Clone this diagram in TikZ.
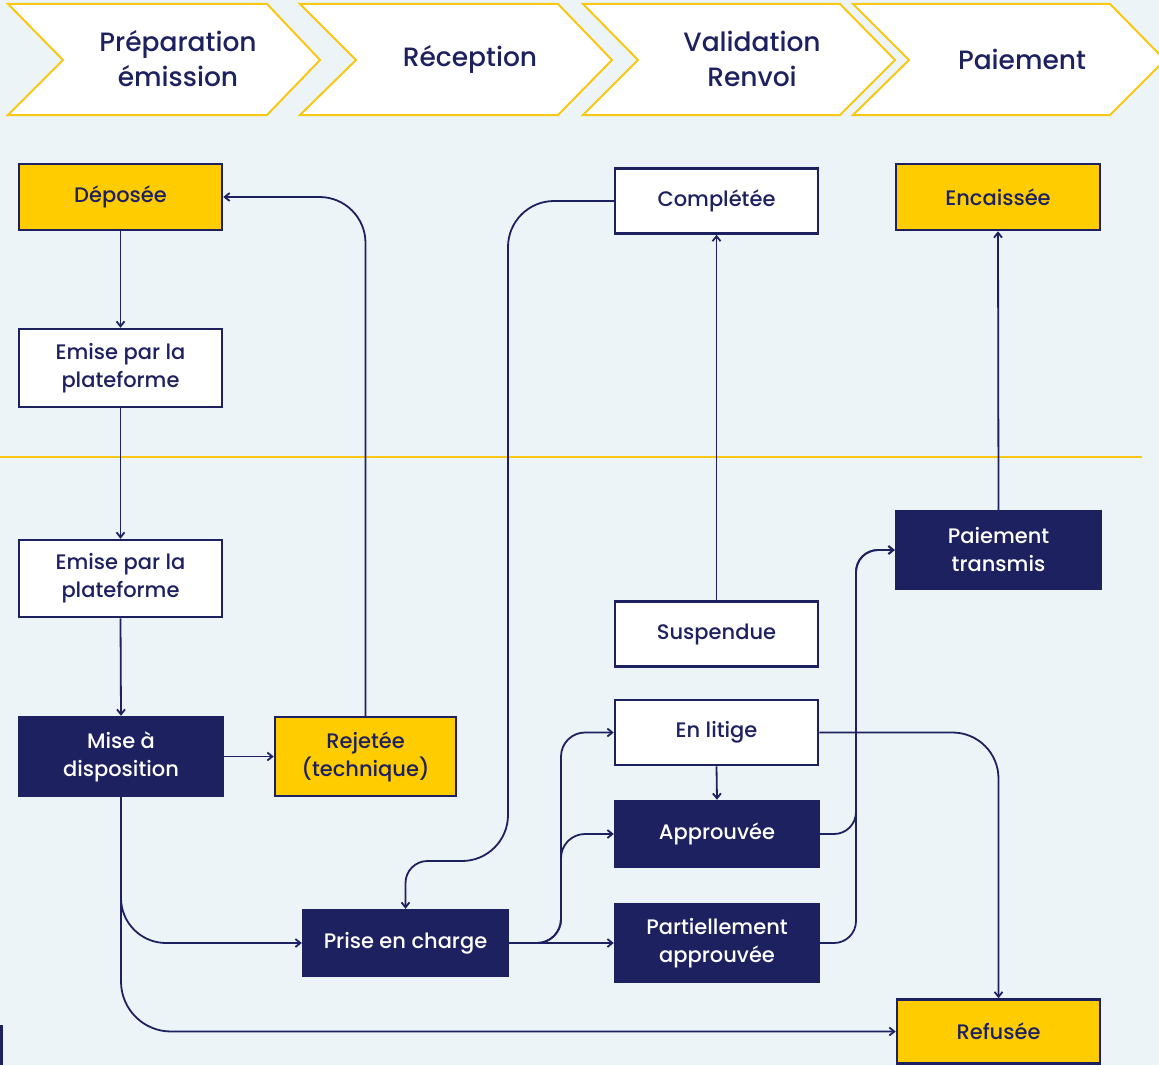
\documentclass[tikz,border=0pt]{standalone}
\usepackage{fontspec}
\setmainfont{Poppins}[UprightFont=* Medium]
\usetikzlibrary{arrows.meta,calc}
\definecolor{navy}{RGB}{30,33,95}
\definecolor{yel}{RGB}{255,204,0}
\definecolor{chevy}{RGB}{248,200,20}
\definecolor{bg}{RGB}{236,244,247}
\newcommand{\boxfont}{\fontsize{21}{28}\selectfont}
\newcommand{\headfont}{\fontsize{26.5}{35}\selectfont}
\tikzset{
  base/.style={rectangle, inner sep=0pt, align=center, font=\boxfont},
  wbox/.style={base, fill=white, draw=navy, line width=2.5pt, text=navy},
  ybox/.style={base, fill=yel, draw=navy, line width=2.5pt, text=navy},
  nbox/.style={base, fill=navy, text=white},
  conn/.style={draw=navy, line width=1.8pt, -{Straight Barb[length=5pt,width=8pt]}},
  chev/.style={fill=white, draw=chevy, line width=2pt, line join=miter},
  headtxt/.style={align=center, font=\headfont, text=navy, inner sep=0pt}
}
\begin{document}
\begin{tikzpicture}[x=1pt,y=-1pt]
\fill[bg] (0,0) rectangle (1159,1065);
\useasboundingbox (0,0) rectangle (1159,1065);

% header chevrons
\draw[chev] (8,4) -- (267,4) -- (320,60) -- (267,115) -- (8,115) -- (63,60) -- cycle;
\draw[chev] (300,4) -- (558,4) -- (612,60) -- (558,115) -- (300,115) -- (356,60) -- cycle;
\draw[chev] (583,4) -- (840,4) -- (895,60) -- (840,115) -- (583,115) -- (638,60) -- cycle;
\draw[chev] (853,4) -- (1110,4) -- (1165,60) -- (1110,115) -- (853,115) -- (909,60) -- cycle;
\node[headtxt] (h1) at (178,59) {Préparation\\émission};
\node[headtxt] (h2) at (470,59) {Réception};
\node[headtxt] (h3) at (752,59) {Validation\\Renvoi};
\node[headtxt] (h4) at (1022,59) {Paiement};

% divider
\draw[chevy, line width=2pt] (0,457) -- (1142,457);

% partial box at bottom left
\draw[fill=yel, draw=navy, line width=2.5pt] (-40,1026) rectangle (1.5,1090);

% nodes
\node[ybox, minimum width=203pt, minimum height=66pt] (dep) at (120.5,197) {Déposée};
\node[wbox, minimum width=203pt, minimum height=78pt] (em1) at (120.5,368) {Emise par la\\plateforme};
\node[wbox, minimum width=203pt, minimum height=77pt] (em2) at (120.5,578.5) {Emise par la\\plateforme};
\node[nbox, minimum width=206pt, minimum height=81pt] (mise) at (121,756.5) {Mise à\\disposition};
\node[ybox, minimum width=181pt, minimum height=79pt] (rej) at (365.5,756.5) {Rejetée\\(technique)};
\node[nbox, minimum width=207pt, minimum height=68pt] (prise) at (405.5,943) {Prise en charge};
\node[wbox, minimum width=203pt, minimum height=65pt] (comp) at (716.5,201) {Complétée};
\node[ybox, minimum width=204pt, minimum height=66pt] (enc) at (998,197) {Encaissée};
\node[nbox, minimum width=207pt, minimum height=80pt] (pt) at (998.5,550) {Paiement\\transmis};
\node[wbox, minimum width=203pt, minimum height=65pt] (susp) at (716.5,634) {Suspendue};
\node[wbox, minimum width=203pt, minimum height=65pt] (lit) at (716.5,732.5) {En litige};
\node[nbox, minimum width=206pt, minimum height=68pt] (appr) at (717,834) {Approuvée};
\node[nbox, minimum width=206pt, minimum height=80pt] (part) at (717,943) {Partiellement\\approuvée};
\node[ybox, minimum width=203pt, minimum height=64pt] (ref) at (998.5,1031.5) {Refusée};

% helper coordinates
\coordinate (bL) at (561,0);
\coordinate (bR) at (856,0);
\coordinate (kx) at (508,861);

% connectors
\draw[conn] (dep.south) -- (em1.north);
\draw[conn] (em1.south) -- (em2.north);
\draw[conn] (em2.south) -- (mise.north);
\draw[conn] (mise.east) -- (rej.west);
\draw[conn, rounded corners=46pt] (rej.north) |- (dep.east);
\draw[conn, rounded corners=45pt] (mise.south) |- (prise.west);
\draw[conn, rounded corners=50pt] (mise.south) |- (ref.west);
\draw[conn, rounded corners=46pt] (comp.west) -| (kx) [rounded corners=22pt] -| (prise.north);
\draw[conn] (susp.north) -- (comp.south);
\draw[conn] (lit.south) -- (appr.north);
\draw[conn, rounded corners=24pt] (prise.east) -| (bL |- lit.west) -- (lit.west);
\draw[conn, rounded corners=24pt] (prise.east) -| (bL |- appr.west) -- (appr.west);
\draw[conn] (prise.east) -- (part.west);
\draw[conn, rounded corners=22pt] (appr.east) -| (bR |- pt.west) -- (pt.west);
\draw[conn, rounded corners=22pt] (part.east) -| (bR |- pt.west) -- (pt.west);
\draw[conn, rounded corners=46pt] (lit.east) -| (ref.north);
\draw[conn] (pt.north) -- (enc.south);
\end{tikzpicture}
\end{document}
